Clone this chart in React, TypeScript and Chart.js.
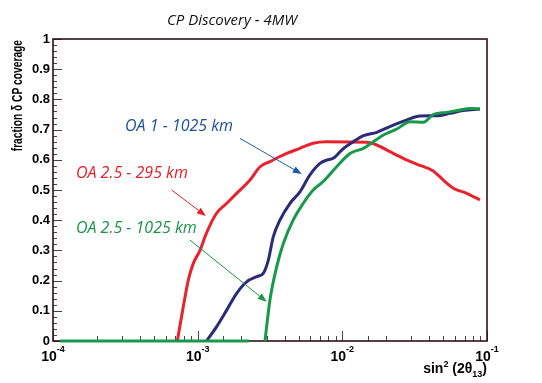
import React, { useEffect, useRef } from "react";
import { Chart, registerables } from "chart.js";

Chart.register(...registerables);

// ---- data (x = sin^2(2θ13), y = fraction of δCP coverage) ----
const redX = [7.23e-4, 7.96e-4, 8.62e-4, 9.33e-4, 1.04e-3, 1.15e-3, 1.35e-3, 1.59e-3, 1.86e-3, 2.3e-3, 2.7e-3, 3.16e-3, 4.12e-3, 5.09e-3, 6.29e-3, 7.79e-3, 1.47e-2, 1.73e-2, 2.13e-2, 2.64e-2, 3.26e-2, 4.25e-2, 4.99e-2, 5.85e-2, 7.24e-2, 8.94e-2];
const redY = [0, 0.114, 0.202, 0.257, 0.301, 0.357, 0.423, 0.456, 0.489, 0.533, 0.577, 0.594, 0.621, 0.638, 0.655, 0.66, 0.658, 0.649, 0.627, 0.605, 0.586, 0.563, 0.533, 0.506, 0.489, 0.467];

const blueX = [1.15e-3, 1.35e-3, 1.59e-3, 1.86e-3, 2.18e-3, 2.56e-3, 2.84e-3, 3.08e-3, 3.33e-3, 3.71e-3, 4.35e-3, 5.09e-3, 5.97e-3, 7.01e-3, 7.79e-3, 8.65e-3, 1.02e-2, 1.19e-2, 1.4e-2, 1.73e-2, 2.13e-2, 2.79e-2, 3.44e-2, 4.49e-2, 5.55e-2, 6.85e-2, 8.94e-2];
const blueY = [0, 0.047, 0.103, 0.158, 0.196, 0.213, 0.224, 0.268, 0.345, 0.401, 0.456, 0.494, 0.55, 0.588, 0.599, 0.605, 0.638, 0.66, 0.68, 0.691, 0.71, 0.732, 0.745, 0.746, 0.754, 0.763, 0.768];

const greenX = [1.12e-4, 2.26e-3, 2.6e-3, 2.92e-3, 3.16e-3, 3.52e-3, 3.91e-3, 4.58e-3, 5.37e-3, 6.29e-3, 7.38e-3, 9.13e-3, 1.13e-2, 1.4e-2, 1.64e-2, 1.92e-2, 2.38e-2, 2.94e-2, 3.63e-2, 4.25e-2, 5.26e-2, 6.5e-2, 7.62e-2, 8.94e-2];
const greenY = [0, 0, null, 0, 0.136, 0.246, 0.323, 0.401, 0.456, 0.5, 0.528, 0.577, 0.621, 0.638, 0.66, 0.682, 0.702, 0.726, 0.724, 0.75, 0.757, 0.765, 0.77, 0.768];

const yTicks = [0, 0.1, 0.2, 0.3, 0.4, 0.5, 0.6, 0.7, 0.8, 0.9, 1];
const xMin = 1e-4;
const xMax = 1e-1;

const titleText = "CP Discovery - 4MW";
const yTitle = "fraction \u03b4 CP coverage";

// annotations (data coordinates)
const labelTexts = ["OA 1 - 1025 km", "OA 2.5 - 295 km", "OA 2.5 - 1025 km"];
const labelColors = ["#1d4f96", "#e32228", "#1a9447"];
const arrowColors = ["#1d5aa6", "#e32228", "#1a9447"];
const labelX = [3.15e-4, 1.44e-4, 1.44e-4];
const labelY = [0.709, 0.556, 0.374];
const arrowFromX = [1.96e-3, 6.61e-4, 8.85e-4];
const arrowFromY = [0.671, 0.5, 0.334];
const arrowToX = [5.24e-3, 1.14e-3, 3.0e-3];
const arrowToY = [0.553, 0.414, 0.13];

const pts = (xs: number[], ys: (number | null)[]) => xs.map((x, i) => ({ x, y: ys[i] }));

const isDecade = (v: number) => Math.abs(Math.log10(v) - Math.round(Math.log10(v))) < 1e-6;
const BOLD = "'Liberation Sans', Arial, sans-serif";

const overlay = {
  id: "overlay",
  beforeDatasetsDraw(chart: any) {
    const { ctx, chartArea: a, scales } = chart;
    const xs = scales.x;
    const ys = scales.y;
    ctx.save();
    ctx.strokeStyle = "#444";
    ctx.lineWidth = 1;
    ctx.beginPath();
    for (const t of xs.ticks) {
      if (t.value < xMin || t.value > xMax) continue;
      const px = Math.round(xs.getPixelForValue(t.value)) + 0.5;
      const len = isDecade(t.value) ? 10 : 5;
      ctx.moveTo(px, a.bottom);
      ctx.lineTo(px, a.bottom - len);
    }
    for (let i = 0; i <= 50; i++) {
      const py = Math.round(ys.getPixelForValue(i / 50)) + 0.5;
      const len = i % 5 === 0 ? 9 : 4;
      ctx.moveTo(a.left, py);
      ctx.lineTo(a.left + len, py);
    }
    ctx.stroke();
    ctx.strokeStyle = "#2e1218";
    ctx.lineWidth = 1.6;
    ctx.strokeRect(a.left, a.top, a.right - a.left, a.bottom - a.top);
    ctx.restore();
  },
  afterDatasetsDraw(chart: any) {
    const { ctx, chartArea: a, scales } = chart;
    const xs = scales.x;
    const ys = scales.y;
    ctx.save();
    // y axis title (condensed bold, rotated, top-aligned)
    ctx.save();
    ctx.translate(a.left - 35, a.top + 1);
    ctx.rotate(-Math.PI / 2);
    ctx.scale(0.73, 1);
    ctx.font = `bold 14px ${BOLD}`;
    ctx.fillStyle = "#000";
    ctx.textAlign = "right";
    ctx.textBaseline = "middle";
    ctx.fillText(yTitle, 0, 0);
    ctx.restore();
    // x tick labels: 10 with superscript exponent
    ctx.fillStyle = "#000";
    ctx.textBaseline = "alphabetic";
    ctx.textAlign = "left";
    for (const t of xs.ticks) {
      if (!isDecade(t.value) || t.value < xMin * 0.999 || t.value > xMax * 1.001) continue;
      const base = "10";
      const exp = String(Math.round(Math.log10(t.value)));
      ctx.font = `bold 14px ${BOLD}`;
      const wb = ctx.measureText(base).width;
      ctx.font = `bold 9px ${BOLD}`;
      const we = ctx.measureText(exp).width;
      const px = xs.getPixelForValue(t.value);
      const x0 = px - (wb + we) / 2;
      ctx.font = `bold 14px ${BOLD}`;
      ctx.fillText(base, x0, a.bottom + 20);
      ctx.font = `bold 9px ${BOLD}`;
      ctx.fillText(exp, x0 + wb, a.bottom + 11);
    }
    // x axis title: sin² (2θ13)
    {
      const parts: [string, number, number][] = [
        ["sin", 14, 0],
        ["2", 9, -6],
        [" (2\u03b8", 14, 0],
        ["13", 9, 4],
        [")", 14, 0],
      ];
      let total = 0;
      for (const [s, f] of parts) {
        ctx.font = `bold ${f}px ${BOLD}`;
        total += ctx.measureText(s).width;
      }
      let x = a.right - total;
      const baseY = a.bottom + 32;
      for (const [s, f, dy] of parts) {
        ctx.font = `bold ${f}px ${BOLD}`;
        ctx.fillText(s, x, baseY + dy);
        x += ctx.measureText(s).width;
      }
    }
    // title
    ctx.font = "italic 15px 'Open Sans'";
    ctx.fillStyle = "#111";
    ctx.textAlign = "center";
    ctx.textBaseline = "middle";
    ctx.fillText(titleText, a.left + 179, a.top - 18);
    // labels
    ctx.font = "italic 16px 'Open Sans'";
    ctx.textAlign = "left";
    for (let i = 0; i < labelTexts.length; i++) {
      ctx.fillStyle = labelColors[i];
      ctx.fillText(labelTexts[i], xs.getPixelForValue(labelX[i]), ys.getPixelForValue(labelY[i]));
    }
    // arrows
    for (let i = 0; i < arrowFromX.length; i++) {
      const x0 = xs.getPixelForValue(arrowFromX[i]);
      const y0 = ys.getPixelForValue(arrowFromY[i]);
      const x1 = xs.getPixelForValue(arrowToX[i]);
      const y1 = ys.getPixelForValue(arrowToY[i]);
      const ang = Math.atan2(y1 - y0, x1 - x0);
      const hl = 9;
      const hw = 3.5;
      const bx = x1 - hl * Math.cos(ang);
      const by = y1 - hl * Math.sin(ang);
      ctx.strokeStyle = arrowColors[i];
      ctx.fillStyle = arrowColors[i];
      ctx.lineWidth = 1;
      ctx.beginPath();
      ctx.moveTo(x0, y0);
      ctx.lineTo(bx, by);
      ctx.stroke();
      ctx.beginPath();
      ctx.moveTo(x1, y1);
      ctx.lineTo(bx + hw * Math.sin(ang), by - hw * Math.cos(ang));
      ctx.lineTo(bx - hw * Math.sin(ang), by + hw * Math.cos(ang));
      ctx.closePath();
      ctx.fill();
    }
    ctx.restore();
  },
};

export default function App() {
  const ref = useRef<HTMLCanvasElement>(null);
  useEffect(() => {
    if (!ref.current) return;
    const common = { borderWidth: 3, pointRadius: 0, fill: false, cubicInterpolationMode: "monotone" as const, spanGaps: false, clip: 4 };
    const chart = new Chart(ref.current, {
      type: "line",
      data: {
        datasets: [
          { ...common, label: "OA 2.5 - 295 km", data: pts(redX, redY), borderColor: "#e8232b", order: 2 },
          { ...common, label: "OA 1 - 1025 km", data: pts(blueX, blueY), borderColor: "#2b2a7c", order: 1 },
          { ...common, label: "OA 2.5 - 1025 km", data: pts(greenX, greenY), borderColor: "#18994a", order: 0 },
        ] as any,
      },
      options: {
        animation: false,
        responsive: false,
        layout: { padding: { top: 39, right: 55, left: 0, bottom: 0 } },
        plugins: { legend: { display: false }, tooltip: { enabled: false }, title: { display: false } },
        scales: {
          x: {
            type: "logarithmic",
            min: xMin,
            max: xMax,
            grid: { display: false, drawTicks: false },
            border: { display: false },
            ticks: {
              autoSkip: false,
              maxRotation: 0,
              callback: () => "",
            },
            afterFit: (s: any) => {
              s.height = 42;
            },
          },
          y: {
            type: "linear",
            min: 0,
            max: 1,
            grid: { display: false, drawTicks: false },
            border: { display: false },
            afterBuildTicks: (s: any) => {
              s.ticks = yTicks.map((v) => ({ value: v }));
            },
            ticks: {
              padding: 3,
              color: "#000",
              font: { family: BOLD, weight: "bold", size: 13 },
              callback: (v: any) => String(Math.round(Number(v) * 10) / 10),
            },
            afterFit: (s: any) => {
              s.width = 53;
            },
          },
        },
      } as any,
      plugins: [overlay],
    });
    return () => chart.destroy();
  }, []);
  return (
    <div style={{ position: "absolute", left: 0, top: 0, width: 542, height: 383, background: "#fff" }}>
      <canvas ref={ref} width={542} height={383} />
    </div>
  );
}
